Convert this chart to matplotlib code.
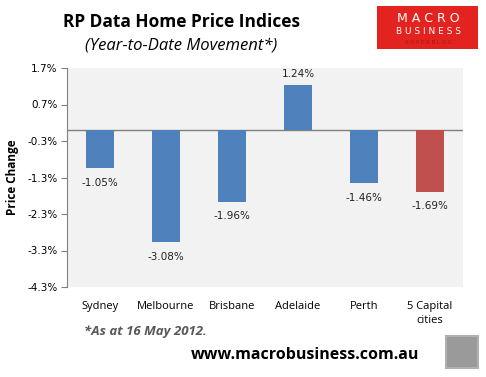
import numpy as np
import matplotlib.pyplot as plt
from matplotlib.patches import Rectangle

# Дані
cities = ["Sydney", "Melbourne", "Brisbane", "Adelaide", "Perth", "5 Capital\ncities"]
changes = [-1.05, -3.08, -1.96, 1.24, -1.46, -1.69]
bar_colors = ["#4F81BD", "#4F81BD", "#4F81BD", "#4F81BD", "#4F81BD", "#C0504D"]
yticks = [1.7, 0.7, -0.3, -1.3, -2.3, -3.3, -4.3]

fig = plt.figure(figsize=(4.86, 3.77), dpi=100)
fig.patch.set_facecolor('white')
ax = fig.add_axes([67/486, 1 - 287/377, 396/486, 219/377])
ax.set_facecolor('#F2F2F2')

x = np.arange(len(cities))
ax.bar(x, changes, width=0.41, color=bar_colors, zorder=3)
ax.axhline(0, color='#808080', lw=1, zorder=2)

for xi, v in zip(x, changes):
    if v < 0:
        ax.text(xi, v - 0.26, f"{v:.2f}%", ha='center', va='top', fontsize=7.5,
                family='DejaVu Sans', color='#222222')
    else:
        ax.text(xi, v + 0.15, f"{v:.2f}%", ha='center', va='bottom', fontsize=7.5,
                family='DejaVu Sans', color='#222222')

ax.set_xlim(-0.5, len(cities) - 0.5)
ax.set_ylim(-4.3, 1.7)
ax.set_yticks(yticks)
ax.set_yticklabels([f"{t:.1f}%" for t in yticks], fontsize=7.5, family='DejaVu Sans')
ax.set_xticks(x)
ax.set_xticklabels(cities, fontsize=8, family='Open Sans', va='top', linespacing=1.45)
ax.tick_params(axis='x', length=0, pad=10)
ax.tick_params(axis='y', length=4, color='#808080', pad=3, direction='out')
for s in ['top', 'right', 'bottom']:
    ax.spines[s].set_visible(False)
ax.spines['left'].set_color('#808080')
ax.set_ylabel("Price Change", fontsize=8.5, fontweight='bold', family='Open Sans', labelpad=6)

# Заголовки
fig.text(181/486, 1 - 22/377, "RP Data Home Price Indices", ha='center', va='center',
         fontsize=12.5, fontweight='bold', family='Open Sans')
fig.text(181/486, 1 - 45/377, "(Year-to-Date Movement*)", ha='center', va='center',
         fontsize=12, style='italic', family='Open Sans')

# Логотип
fig.patches.append(Rectangle((377/486, 1 - 49/377), 101/486, 43/377, transform=fig.transFigure,
                             facecolor='#E3231F', edgecolor='none'))
fig.text(428/486, 1 - 18/377, "M A C R O", ha='center', va='center', fontsize=9, color='white',
         family='DejaVu Sans')
fig.text(428/486, 1 - 32/377, "B U S I N E S S", ha='center', va='center', fontsize=6.5,
         color='white', family='DejaVu Sans')
fig.text(428/486, 1 - 42/377, "S U P E R B L O G", ha='center', va='center', fontsize=4,
         color='#A81515', family='DejaVu Sans')

# Підписи внизу
fig.text(84/486, 1 - 331/377, "*As at 16 May 2012.", ha='left', va='center', fontsize=9.5,
         style='italic', fontweight='bold', color='#595959', family='Open Sans')
fig.text(305/486, 1 - 355/377, "www.macrobusiness.com.au", ha='center', va='center',
         fontsize=11.5, fontweight='bold', family='Open Sans')
fig.patches.append(Rectangle((446/486, 1 - 368/377), 32/486, 32/377, transform=fig.transFigure,
                             facecolor='#9A9A9A', edgecolor='#B0B0B0', lw=1.5))

plt.savefig('out.png', dpi=100)
